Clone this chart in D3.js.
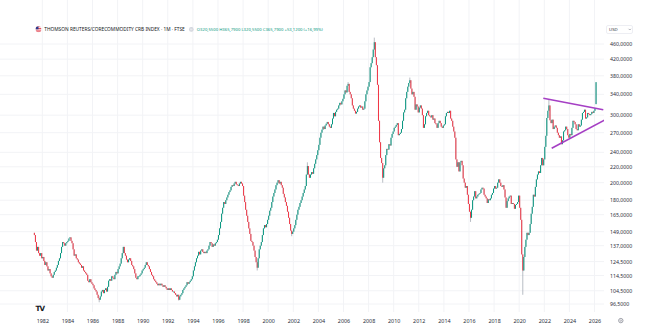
<!DOCTYPE html>
<html>
<head>
<meta charset="utf-8">
<script src="https://cdn.jsdelivr.net/npm/d3@7/dist/d3.min.js"></script>
<style>
  html, body { margin: 0; padding: 0; background: #ffffff; }
  svg { display: block; font-family: "Noto Sans", "DejaVu Sans", sans-serif; }
</style>
</head>
<body>
<svg id="chart" width="647" height="334"></svg>
<script>
// ---------------- DATA ----------------
const title = "THOMSON REUTERS/CORECOMMODITY CRB INDEX · 1M · FTSE";
const ohlcText = "O320,5500 H365,7900 L320,5500 C365,7900 +53,1200 (+16,99%)";
const currency = "USD";

// first monthly candle: May 1981
const startYear = 1981, startMonth = 4; // 0-based month index
const firstOpen = 148;

// monthly closes, one row per year
const monthlyClose = [
  /*1981*/ 146, 140, 133, 136, 131, 129, 131, 127,
  /*1982*/ 128, 125, 122, 124, 121, 118, 119, 116, 114, 113, 115, 117,
  /*1983*/ 118, 120, 122, 125, 127, 131, 136, 140, 139, 137, 139, 140,
  /*1984*/ 141, 143, 144, 141, 139, 134, 129, 130, 127, 126, 124, 123,
  /*1985*/ 122, 120, 121, 118, 117, 116, 115, 111, 110, 112, 110, 109,
  /*1986*/ 108, 106, 105, 104, 102, 100, 99, 101, 104, 105, 103, 105,
  /*1987*/ 106, 104, 107, 111, 112, 111, 114, 113, 112, 115, 117, 116,
  /*1988*/ 119, 121, 123, 127, 131, 136, 131, 129, 126, 124, 126, 127,
  /*1989*/ 125, 122, 121, 119, 116, 113, 112, 114, 114, 115, 116, 118,
  /*1990*/ 119, 120, 122, 124, 122, 121, 119, 117, 115, 114, 112, 111,
  /*1991*/ 110, 109, 108, 109, 108, 109, 108, 107, 108, 107, 106, 105,
  /*1992*/ 106, 105, 106, 105, 104, 104, 103, 102, 101, 102, 99, 101,
  /*1993*/ 102, 103, 105, 106, 107, 108, 110, 109, 110, 111, 112, 114,
  /*1994*/ 118, 121, 124, 127, 129, 132, 130, 133, 134, 132, 131, 132,
  /*1995*/ 131, 133, 134, 137, 140, 139, 136, 138, 137, 139, 140, 142,
  /*1996*/ 146, 152, 158, 166, 172, 178, 176, 180, 183, 186, 189, 191,
  /*1997*/ 195, 197, 196, 199, 201, 198, 197, 196, 199, 201, 199, 196,
  /*1998*/ 185, 178, 170, 164, 158, 152, 147, 141, 140, 137, 133, 128,
  /*1999*/ 124, 120, 127, 134, 137, 140, 146, 152, 155, 153, 156, 160,
  /*2000*/ 164, 169, 172, 178, 184, 188, 192, 197, 200, 203, 199, 201,
  /*2001*/ 197, 194, 187, 183, 178, 174, 168, 162, 156, 150, 147, 149,
  /*2002*/ 152, 155, 160, 165, 170, 173, 177, 180, 184, 188, 192, 196,
  /*2003*/ 210, 221, 210, 206, 210, 213, 211, 218, 224, 230, 236, 243,
  /*2004*/ 251, 262, 270, 275, 280, 276, 282, 285, 288, 284, 280, 278,
  /*2005*/ 284, 294, 304, 298, 306, 310, 312, 318, 323, 320, 326, 331,
  /*2006*/ 340, 348, 344, 358, 362, 345, 340, 332, 318, 312, 308, 303,
  /*2007*/ 306, 312, 316, 318, 314, 316, 310, 312, 326, 340, 348, 356,
  /*2008*/ 366, 400, 410, 425, 445, 465, 425, 405, 360, 290, 255, 232,
  /*2009*/ 225, 206, 218, 222, 236, 245, 244, 252, 250, 262, 268, 272,
  /*2010*/ 278, 280, 283, 286, 266, 268, 270, 276, 290, 305, 310, 332,
  /*2011*/ 345, 356, 364, 370, 352, 340, 345, 335, 310, 320, 316, 305,
  /*2012*/ 314, 318, 312, 300, 278, 284, 298, 304, 308, 300, 298, 296,
  /*2013*/ 300, 292, 294, 286, 284, 278, 286, 290, 286, 280, 278, 282,
  /*2014*/ 284, 298, 304, 306, 304, 308, 294, 290, 280, 272, 262, 230,
  /*2015*/ 220, 226, 214, 226, 228, 222, 205, 200, 194, 196, 186, 176,
  /*2016*/ 168, 162, 170, 180, 184, 190, 182, 184, 186, 187, 188, 192,
  /*2017*/ 194, 193, 186, 184, 182, 177, 181, 180, 182, 186, 188, 193,
  /*2018*/ 196, 193, 194, 200, 204, 200, 196, 195, 197, 192, 183, 172,
  /*2019*/ 179, 182, 184, 185, 176, 177, 176, 171, 175, 176, 178, 185,
  /*2020*/ 172, 160, 130, 118, 128, 136, 142, 148, 146, 148, 156, 166,
  /*2021*/ 173, 186, 184, 195, 204, 210, 214, 212, 222, 232, 222, 230,
  /*2022*/ 248, 265, 295, 308, 318, 291, 286, 292, 276, 280, 282, 278,
  /*2023*/ 270, 266, 262, 264, 252, 258, 272, 274, 280, 276, 266, 262,
  /*2024*/ 268, 266, 278, 290, 288, 284, 276, 274, 284, 280, 282, 292,
  /*2025*/ 304, 306, 310, 294, 296, 304, 302, 300, 302, 306, 304, 308,
  /*2026*/ 312.67, 365.79
];

// explicit opens / wick extremes where they differ from the body
const openOverride = [["2026-02", 320.55]];
const highOverride = [["2008-06", 478], ["2011-04", 376], ["2022-05", 330], ["2026-02", 365.79], ["2006-05", 366], ["2003-02", 226]];
const lowOverride  = [["2020-04", 102], ["2009-02", 200], ["1986-07", 97.5], ["1992-11", 98.5], ["1999-02", 118], ["2016-02", 158], ["2001-11", 145]];

// triangle trendlines [decimal year, price]
const trendUpper = [[2021.92, 332], [2026.70, 310]];
const trendLower = [[2022.59, 246], [2026.84, 291.6]];

const priceTicks = [460, 420, 380, 340, 300, 270, 240, 220, 200, 180, 165, 149, 137, 124.5, 114.5, 104.5, 96.5];
const yearTicks = d3.range(1982, 2027, 2);

// ---------------- CHART ----------------
const W = 647, H = 334;
const plotRight = 604, plotBottom = 312;
const upColor = "#089981", downColor = "#f23645";
const svg = d3.select("#chart");
svg.append("rect").attr("width", W).attr("height", H).attr("fill", "#fff");

const x = d3.scaleTime()
  .domain([new Date(1982, 0, 1), new Date(2026, 0, 1)])
  .range([42.3, 594.5]);
const y = d3.scaleLog().domain([96.5, 460]).range([304, 44]);
const decYear = v => {
  const yr = Math.floor(v);
  return new Date(yr, 0, 1 + Math.round((v - yr) * 365));
};

// build candles
const key = (yr, m) => `${yr}-${String(m + 1).padStart(2, "0")}`;
const oMap = new Map(openOverride), hMap = new Map(highOverride), lMap = new Map(lowOverride);
const candles = monthlyClose.map((c, i) => {
  const mIdx = startMonth + i;
  const yr = startYear + Math.floor(mIdx / 12), m = mIdx % 12;
  const k = key(yr, m);
  const o = oMap.has(k) ? oMap.get(k) : (i === 0 ? firstOpen : monthlyClose[i - 1]);
  const h = hMap.has(k) ? hMap.get(k) : Math.max(o, c);
  const l = lMap.has(k) ? lMap.get(k) : Math.min(o, c);
  return { date: new Date(yr, m, 15), o, h, l, c };
});

// grid
const grid = svg.append("g");
grid.selectAll("line.v").data(yearTicks).join("line")
  .attr("x1", d => x(new Date(d, 0, 1))).attr("x2", d => x(new Date(d, 0, 1)))
  .attr("y1", 0).attr("y2", plotBottom)
  .attr("stroke", "#f2f3f6").attr("stroke-width", 1);
grid.selectAll("line.h").data(priceTicks).join("line")
  .attr("x1", 0).attr("x2", plotRight)
  .attr("y1", d => y(d)).attr("y2", d => y(d))
  .attr("stroke", "#f2f3f6").attr("stroke-width", 1);

// clip
svg.append("clipPath").attr("id", "clip")
  .append("rect").attr("x", 0).attr("y", 0).attr("width", plotRight).attr("height", plotBottom);
const plot = svg.append("g").attr("clip-path", "url(#clip)");

const col = d => d.c >= d.o ? upColor : downColor;
// wicks
plot.append("g").selectAll("line").data(candles).join("line")
  .attr("x1", d => x(d.date)).attr("x2", d => x(d.date))
  .attr("y1", d => y(d.h)).attr("y2", d => y(d.l))
  .attr("stroke", "#9aa0ab").attr("stroke-width", 0.7);
// bodies
plot.append("g").selectAll("rect").data(candles).join("rect")
  .attr("x", d => x(d.date) - 0.5)
  .attr("width", 1)
  .attr("y", d => Math.min(y(d.o), y(d.c)))
  .attr("height", d => Math.max(0.8, Math.abs(y(d.o) - y(d.c))))
  .attr("fill", col);

// trendlines
const tl = d3.line().x(d => x(decYear(d[0]))).y(d => y(d[1]));
[trendUpper, trendLower].forEach(t => {
  plot.append("path").attr("d", tl(t)).attr("fill", "none")
    .attr("stroke", "#a53fc4").attr("stroke-width", 1.6);
});

// bottom axis
const xAxis = svg.append("g").attr("transform", `translate(0,319)`)
  .call(d3.axisBottom(x).tickValues(yearTicks.map(d => new Date(d, 0, 1)))
    .tickFormat(d3.timeFormat("%Y")).tickSize(0).tickPadding(0));
xAxis.select(".domain").remove();
xAxis.selectAll("text").attr("font-size", 5.4).attr("fill", "#2a2e39")
  .attr("font-family", "'Noto Sans', sans-serif");

// right axis
const fmt = d => d3.format(".4f")(d).replace(".", ",");
const yAxis = svg.append("g").attr("transform", `translate(610,0)`)
  .call(d3.axisRight(y).tickValues(priceTicks).tickFormat(fmt).tickSize(0).tickPadding(0));
yAxis.select(".domain").remove();
yAxis.selectAll("text").attr("font-size", 5.2).attr("fill", "#2a2e39")
  .attr("font-family", "'Noto Sans', sans-serif");

// header
const hdr = svg.append("g");
const flag = hdr.append("g").attr("transform", "translate(38.5,29.3)");
flag.append("clipPath").attr("id", "flagclip").append("circle").attr("r", 3);
const fg = flag.append("g").attr("clip-path", "url(#flagclip)");
fg.append("rect").attr("x", -3).attr("y", -3).attr("width", 6).attr("height", 6).attr("fill", "#fff");
[-3, -1.3, 0.4, 2.1].forEach(s => fg.append("rect").attr("x", -3).attr("y", s).attr("width", 6).attr("height", 0.85).attr("fill", "#e0303f"));
fg.append("rect").attr("x", -3).attr("y", -3).attr("width", 3).attr("height", 3).attr("fill", "#2c3a8c");
hdr.append("text").attr("x", 44.3).attr("y", 31.2).text(title)
  .attr("font-size", 5).attr("fill", "#131722")
  .attr("textLength", 140.5).attr("lengthAdjust", "spacingAndGlyphs");
hdr.append("circle").attr("cx", 191.3).attr("cy", 29.4).attr("r", 2.3).attr("fill", "#d1d4dc");
hdr.append("line").attr("x1", 190.1).attr("x2", 192.5).attr("y1", 29).attr("y2", 29).attr("stroke", "#fff").attr("stroke-width", 0.5);
hdr.append("line").attr("x1", 190.1).attr("x2", 192.5).attr("y1", 29.9).attr("y2", 29.9).attr("stroke", "#fff").attr("stroke-width", 0.5);
hdr.append("text").attr("x", 196.8).attr("y", 31).text(ohlcText)
  .attr("font-size", 4.3).attr("fill", upColor)
  .attr("textLength", 126).attr("lengthAdjust", "spacingAndGlyphs");

// currency box
svg.append("rect").attr("x", 606.5).attr("y", 25.5).attr("width", 26).attr("height", 8).attr("rx", 1.5)
  .attr("fill", "#fff").attr("stroke", "#e0e3eb").attr("stroke-width", 0.6);
svg.append("text").attr("x", 609).attr("y", 31).text(currency).attr("font-size", 4.3).attr("fill", "#2a2e39");
svg.append("path").attr("d", "M628.6,28.8 L629.8,30 L631,28.8").attr("fill", "none")
  .attr("stroke", "#6a6d78").attr("stroke-width", 0.5);

// logo
svg.append("text").attr("x", 35.5).attr("y", 311).text("TV")
  .attr("font-size", 7.2).attr("font-weight", 900).attr("fill", "#131722")
  .attr("font-family", "'DejaVu Sans', sans-serif").attr("letter-spacing", -0.8);

// settings icon
svg.append("circle").attr("cx", 620.8).attr("cy", 320.6).attr("r", 2.2)
  .attr("fill", "none").attr("stroke", "#787b86").attr("stroke-width", 0.7);
svg.append("circle").attr("cx", 620.8).attr("cy", 320.6).attr("r", 0.8)
  .attr("fill", "none").attr("stroke", "#787b86").attr("stroke-width", 0.5);
</script>
</body>
</html>
